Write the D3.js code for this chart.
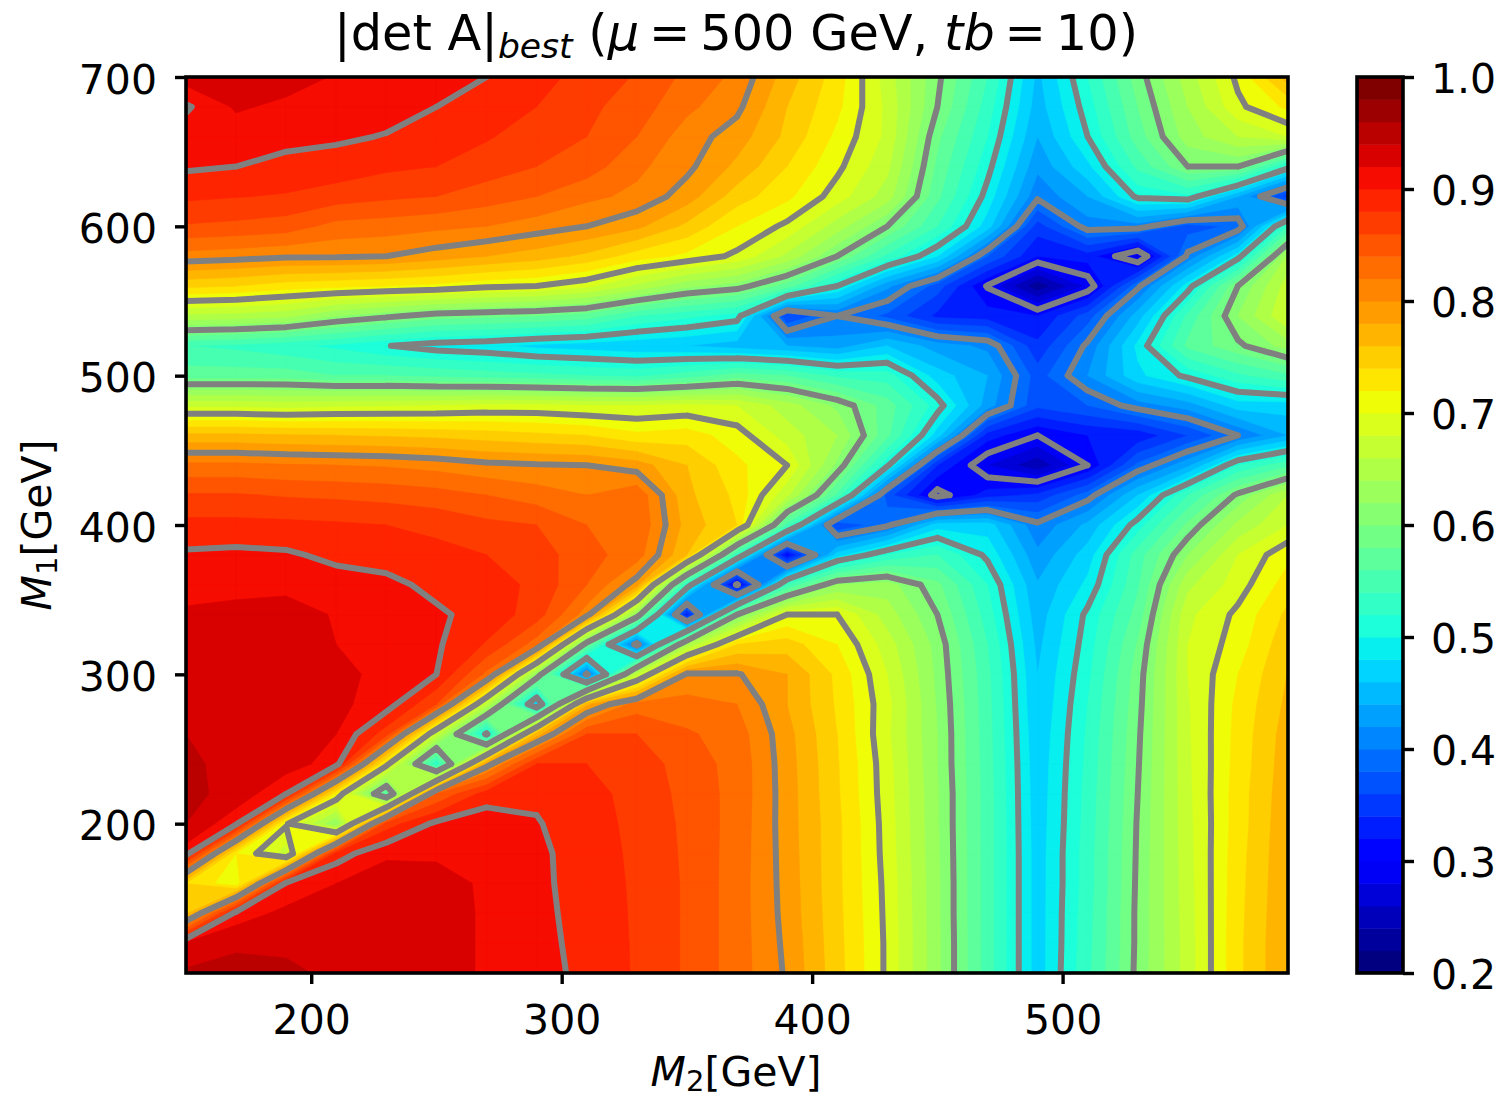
<!DOCTYPE html>
<html><head><meta charset="utf-8">
<script src="https://cdn.jsdelivr.net/npm/d3@7"></script>
<style>html,body{margin:0;padding:0;background:#fff}svg{display:block}text{font-family:"DejaVu Sans",sans-serif;fill:#000}</style>
</head><body><svg id="c" width="1501" height="1099"></svg>
<script>
// |det A|best. Each list is one M2 column, M1 = 700 (first) down to 100 (last), step 20.
const m1Values=[700,680,660,640,620,600,580,560,540,520,500,480,460,440,420,400,380,360,340,320,300,280,260,240,220,200,180,160,140,120,100];
const m2Values=[150,170,190,210,230,250,270,290,310,330,350,370,390,410,430,450,470,490,510,530,550,570,590];
const m2_150=[.93,.897,.912,.903,.884,.858,.812,.745,.655,.54,.57,.675,.765,.825,.862,.886,.903,.915,.922,.928,.933,.937,.94,.945,.945,.94,.91,.74,.755,.925,.943];
const m2_170=[.935,.923,.908,.90,.881,.855,.808,.74,.652,.535,.57,.675,.765,.825,.862,.886,.905,.917,.923,.93,.934,.936,.937,.932,.934,.905,.72,.705,.91,.935,.95];
const m2_190=[.93,.915,.905,.895,.878,.85,.803,.73,.645,.525,.57,.672,.762,.822,.858,.885,.903,.917,.925,.93,.932,.932,.93,.93,.90,.703,.67,.905,.925,.935,.945];
const m2_210=[.918,.91,.903,.892,.87,.833,.803,.725,.62,.515,.56,.676,.76,.82,.856,.883,.895,.909,.919,.92,.925,.925,.92,.91,.72,.62,.89,.92,.93,.935,.935];
const m2_230=[.912,.907,.899,.884,.864,.83,.80,.72,.605,.501,.56,.678,.758,.818,.853,.88,.892,.905,.912,.914,.915,.91,.87,.71,.56,.87,.917,.93,.935,.93,.93];
const m2_250=[.905,.90,.89,.88,.86,.825,.79,.715,.59,.49,.555,.68,.755,.813,.848,.875,.886,.895,.903,.903,.90,.86,.67,.52,.84,.905,.918,.925,.93,.93,.93];
const m2_270=[.90,.89,.882,.87,.85,.82,.78,.705,.585,.485,.55,.685,.75,.805,.84,.865,.88,.89,.893,.878,.835,.66,.495,.79,.89,.912,.915,.918,.917,.917,.917];
const m2_290=[.887,.88,.87,.86,.84,.81,.77,.70,.58,.475,.545,.685,.745,.802,.83,.86,.87,.875,.87,.83,.62,.465,.77,.88,.895,.902,.907,.907,.908,.909,.91];
const m2_310=[.873,.865,.86,.85,.825,.80,.755,.685,.57,.47,.54,.68,.74,.80,.82,.84,.847,.84,.81,.585,.395,.775,.86,.88,.885,.885,.885,.887,.889,.891,.893];
const m2_330=[.858,.85,.84,.825,.815,.785,.73,.655,.54,.465,.535,.68,.725,.79,.835,.838,.83,.79,.62,.39,.665,.83,.86,.872,.875,.877,.878,.878,.878,.878,.878];
const m2_350=[.835,.825,.81,.805,.79,.755,.715,.625,.525,.46,.55,.685,.73,.76,.765,.772,.76,.52,.33,.64,.805,.827,.843,.85,.853,.855,.856,.857,.857,.857,.857];
const m2_370=[.815,.805,.79,.775,.75,.72,.695,.61,.51,.45,.57,.68,.71,.725,.735,.74,.53,.295,.60,.74,.802,.82,.83,.833,.833,.832,.831,.83,.83,.83,.83];
const m2_390=[.77,.76,.755,.74,.725,.695,.655,.57,.36,.44,.56,.65,.67,.70,.665,.55,.31,.54,.70,.75,.78,.78,.787,.789,.79,.79,.791,.792,.793,.795,.797];
const m2_410=[.73,.725,.715,.705,.69,.65,.60,.50,.40,.43,.535,.615,.64,.615,.555,.36,.47,.62,.70,.72,.735,.737,.74,.742,.743,.745,.745,.745,.746,.747,.748];
const m2_430=[.67,.675,.675,.665,.65,.60,.535,.425,.375,.46,.53,.57,.565,.505,.37,.395,.52,.63,.65,.67,.68,.686,.684,.688,.689,.691,.692,.694,.695,.696,.696];
const m2_450=[.605,.60,.585,.575,.565,.54,.48,.37,.335,.43,.47,.51,.47,.34,.29,.47,.54,.585,.60,.612,.615,.618,.62,.62,.622,.622,.623,.624,.624,.625,.625];
const m2_470=[.54,.53,.52,.507,.492,.47,.38,.298,.33,.415,.44,.43,.33,.28,.33,.47,.495,.52,.53,.54,.545,.547,.548,.549,.55,.55,.55,.55,.55,.55,.55];
const m2_490=[.455,.45,.44,.425,.405,.35,.32,.225,.32,.345,.37,.365,.30,.245,.345,.405,.425,.442,.449,.455,.46,.462,.465,.467,.468,.469,.47,.47,.47,.47,.47];
const m2_510=[.52,.51,.50,.475,.44,.41,.33,.285,.37,.405,.42,.38,.32,.30,.39,.445,.47,.485,.505,.51,.515,.52,.523,.525,.527,.528,.53,.53,.532,.533,.535];
const m2_530=[.59,.58,.57,.545,.505,.41,.275,.395,.45,.485,.475,.41,.325,.385,.46,.51,.55,.557,.568,.582,.59,.593,.596,.598,.60,.602,.603,.604,.605,.605,.606];
const m2_550=[.65,.64,.63,.60,.515,.37,.405,.49,.545,.565,.505,.43,.36,.435,.54,.585,.62,.655,.675,.68,.68,.678,.677,.676,.675,.674,.673,.672,.671,.67,.67];
const m2_570=[.705,.695,.66,.60,.44,.385,.49,.60,.62,.595,.535,.47,.40,.52,.605,.645,.68,.69,.705,.71,.72,.725,.727,.728,.73,.73,.732,.733,.734,.735,.735];
const m2_590=[.77,.725,.68,.51,.35,.54,.645,.67,.68,.63,.555,.47,.44,.555,.66,.68,.715,.73,.745,.755,.761,.765,.77,.772,.774,.776,.777,.778,.779,.78,.78];
const columns=[m2_150,m2_170,m2_190,m2_210,m2_230,m2_250,m2_270,m2_290,m2_310,m2_330,m2_350,m2_370,m2_390,m2_410,m2_430,m2_450,m2_470,m2_490,m2_510,m2_530,m2_550,m2_570,m2_590];
const lineLevels=[.3,.4,.5,.6,.7,.8,.9];
const xTicks=[200,300,400,500];
const yTicks=[200,300,400,500,600,700];
const cbTicks=[.2,.3,.4,.5,.6,.7,.8,.9,1.0];

const L=186,R=1288,T=77,B=973,CL=1357,CR=1403;
const x=d3.scaleLinear().domain([150,590]).range([L,R]);
const y=d3.scaleLinear().domain([100,700]).range([B,T]);
const c=d3.scaleLinear().domain([.2,1]).range([B,T]);
const r=d3.scaleLinear().domain([0,.35,.66,.89,1]).range([0,0,1,1,.5]).clamp(true);
const g=d3.scaleLinear().domain([0,.125,.375,.64,.91,1]).range([0,0,1,1,0,0]).clamp(true);
const b=d3.scaleLinear().domain([0,.11,.34,.65,1]).range([.5,1,1,0,0]).clamp(true);
const jet=t=>d3.rgb(255*r(t),255*g(t),255*b(t)).formatHex();

const nx=m2Values.length, ny=m1Values.length;
const fillLevels=d3.range(40).map(i=>+(0.2+0.02*i).toFixed(2));
const bandColor=(d,i)=>jet(i/39);

// Marching squares over the quads, saddles decided by the quad-centre mean.
function cellCorners(i,j){
  return [[i,j],[i+1,j],[i+1,j+1],[i,j+1]].map(([a,q])=>({
    m2:m2Values[a], m1:m1Values[q], v:columns[a][q]}));
}
const px=p=>[x(p.m2),y(p.m1)];
function cross(p,q,l){const t=(l-p.v)/(q.v-p.v);
  return [x(p.m2+t*(q.m2-p.m2)),y(p.m1+t*(q.m1-p.m1))];}
function fillPath(l){
  const path=d3.path();
  const poly=pts=>{pts.forEach((p,k)=>k?path.lineTo(p[0],p[1]):path.moveTo(p[0],p[1]));path.closePath();};
  for(let i=0;i<nx-1;i++)for(let j=0;j<ny-1;j++){
    const q=cellCorners(i,j), up=q.map(p=>p.v>=l), n=d3.sum(up);
    if(n===0)continue;
    const mean=d3.mean(q,p=>p.v);
    if(n===2&&up[0]===up[2]&&mean<l){
      q.forEach((p,k)=>{ if(up[k]){
        const a=q[(k+3)%4], b2=q[(k+1)%4];
        poly([cross(a,p,l),px(p),cross(p,b2,l)]);
      }});
      continue;
    }
    const pts=[];
    q.forEach((p,k)=>{const nxt=q[(k+1)%4];
      if(up[k])pts.push(px(p));
      if(up[k]!==up[(k+1)%4])pts.push(cross(p,nxt,l));});
    poly(pts);
  }
  return path.toString();
}
function linePath(l){
  const path=d3.path();
  const seg=(a,b2)=>{path.moveTo(a[0],a[1]);path.lineTo(b2[0],b2[1]);};
  for(let i=0;i<nx-1;i++)for(let j=0;j<ny-1;j++){
    const q=cellCorners(i,j), up=q.map(p=>p.v>=l), n=d3.sum(up);
    if(n===0||n===4)continue;
    const e=k=>cross(q[k],q[(k+1)%4],l);
    if(n===2&&up[0]===up[2]){
      const mean=d3.mean(q,p=>p.v), highJoin=mean>=l;
      const lowStart=up[0]?1:0, cutStart=highJoin?lowStart:(lowStart+1)%4;
      seg(e((cutStart+3)%4),e(cutStart));
      seg(e((cutStart+1)%4),e((cutStart+2)%4));
      continue;
    }
    const pts=[];
    for(let k=0;k<4;k++) if(up[k]!==up[(k+1)%4])pts.push(e(k));
    seg(pts[0],pts[1]);
  }
  return path.toString();
}

const svg=d3.select("#c");
svg.append("defs").append("clipPath").attr("id","plot").append("rect")
  .attr("x",L).attr("y",T).attr("width",R-L).attr("height",B-T);
const plot=svg.append("g").attr("clip-path","url(#plot)");
plot.selectAll("path.f").data(fillLevels).join("path").attr("class","f")
  .attr("d",d=>fillPath(d)).attr("fill",bandColor).attr("stroke",bandColor).attr("stroke-width",.5);
plot.selectAll("path.l").data(lineLevels).join("path").attr("class","l")
  .attr("d",d=>linePath(d)).attr("fill","none").attr("stroke","#808080").attr("stroke-width",6).attr("stroke-linecap","round");

function styleAxis(a){
  a.select(".domain").remove();
  a.selectAll("line").attr("stroke","#000").attr("stroke-width",3.4);
  a.selectAll("text").style("font-size","41px").attr("fill","#000");
}
svg.append("g").attr("transform",`translate(0,${B})`).call(d3.axisBottom(x).tickValues(xTicks).tickSize(11).tickPadding(21).tickFormat(d3.format("d"))).call(styleAxis);
svg.append("g").attr("transform",`translate(${L},0)`).call(d3.axisLeft(y).tickValues(yTicks).tickSize(11).tickPadding(18).tickFormat(d3.format("d"))).call(styleAxis)
  .selectAll("text").attr("dy","0.39em");
svg.append("rect").attr("x",L).attr("y",T).attr("width",R-L).attr("height",B-T).attr("fill","none").attr("stroke","#000").attr("stroke-width",3.6);

svg.append("g").selectAll("rect").data(fillLevels).join("rect")
  .attr("x",CL).attr("width",CR-CL).attr("y",d=>c(d+.02)).attr("height",d=>c(d)-c(d+.02)+.5)
  .attr("fill",bandColor);
svg.append("g").attr("transform",`translate(${CR},0)`).call(d3.axisRight(c).tickValues(cbTicks).tickSize(11).tickPadding(17).tickFormat(d3.format(".1f"))).call(styleAxis)
  .selectAll("text").attr("dy","0.37em");
svg.append("rect").attr("x",CL).attr("y",T).attr("width",CR-CL).attr("height",B-T).attr("fill","none").attr("stroke","#000").attr("stroke-width",3.6);

function rich(t,parts){parts.forEach(p=>{const s=t.append("tspan").text(p.t);
  if(p.i)s.attr("font-style","italic");
  if(p.s){s.style("font-size",p.s);}
  if(p.dy)s.attr("dy",p.dy);});}
const title=svg.append("text").attr("x",736).attr("y",50).attr("text-anchor","middle").style("font-size","49.4px");
rich(title,[{t:"|det A|"},{t:"best",i:1,s:"34.6px",dy:8},{t:" (",dy:-8},{t:"μ",i:1},{t:"\u2009=\u2009500 GeV, "},{t:"tb",i:1},{t:"\u2009=\u200910)"}]);
const xl=svg.append("text").attr("x",736).attr("y",1086).attr("text-anchor","middle").style("font-size","41px");
rich(xl,[{t:"M",i:1},{t:"2",s:"29px",dy:5},{t:"[GeV]",dy:-5}]);
const yl=svg.append("text").attr("transform","translate(51,525) rotate(-90)").attr("text-anchor","middle").style("font-size","41px");
rich(yl,[{t:"M",i:1},{t:"1",s:"29px",dy:6},{t:"[GeV]",dy:-6}]);
</script></body></html>
